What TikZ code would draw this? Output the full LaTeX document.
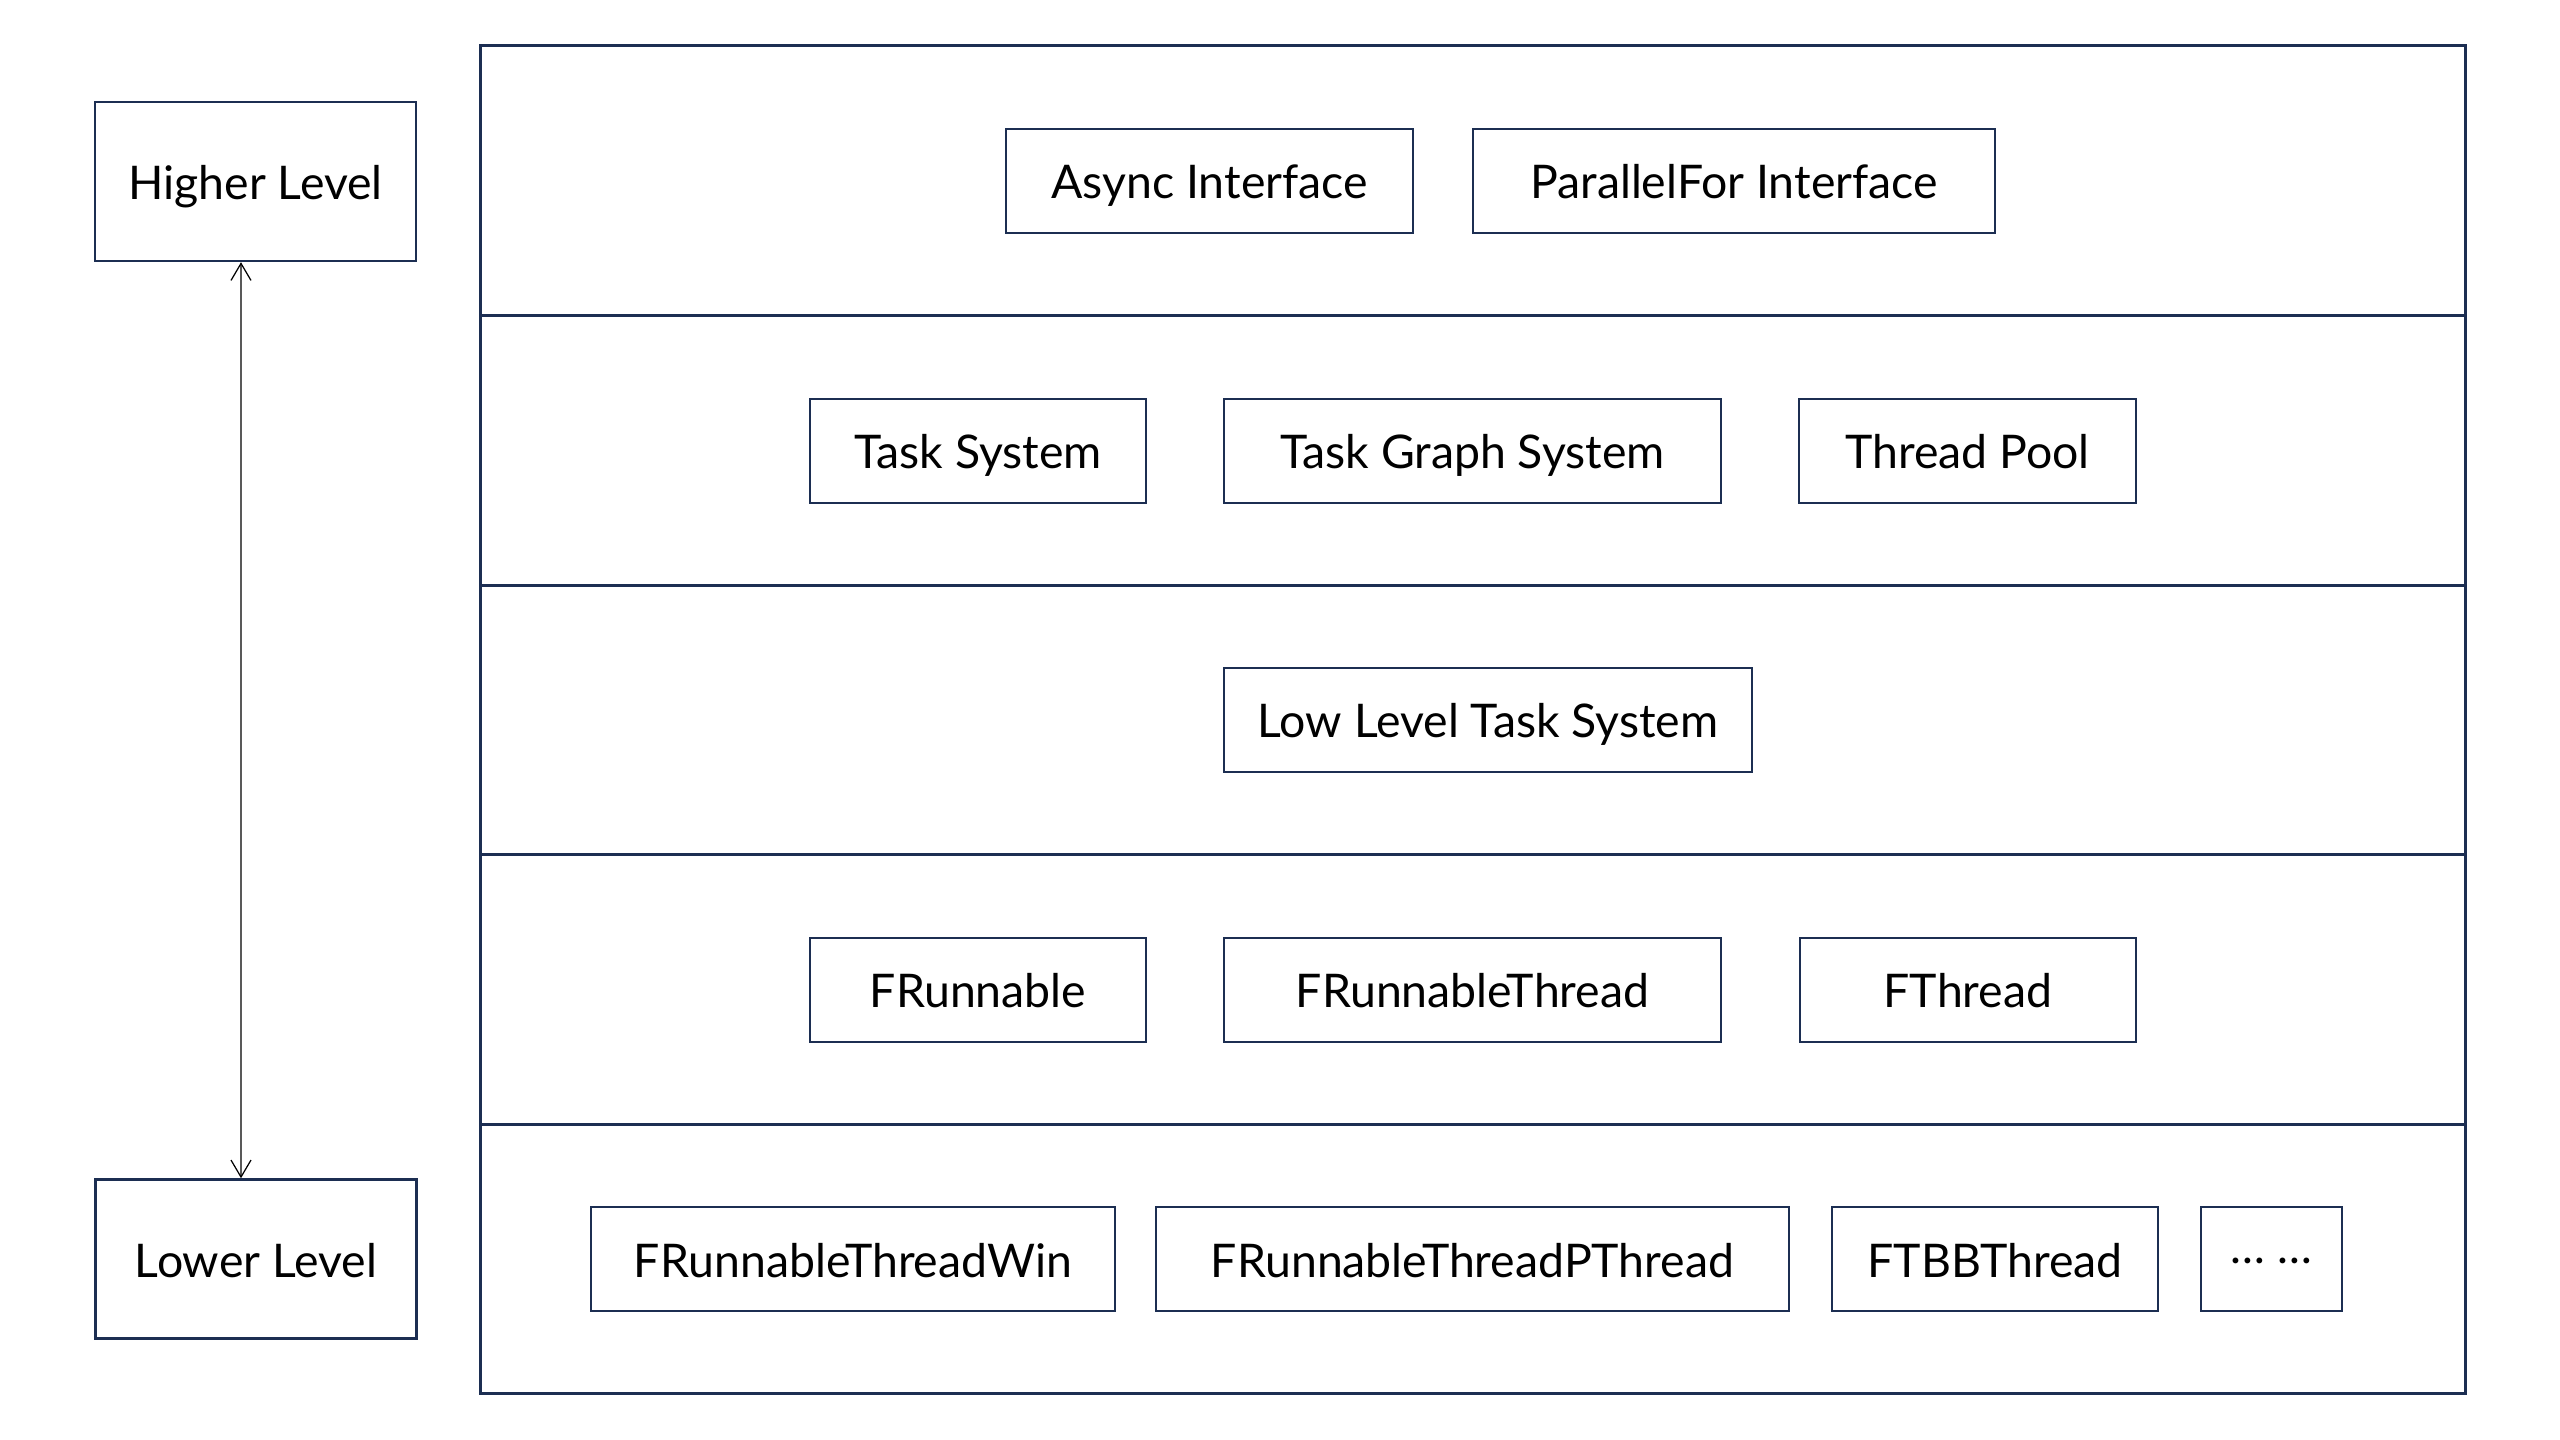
\documentclass[tikz,border=0pt]{standalone}
\usepackage{fontspec}
\setmainfont{Lato}
\usetikzlibrary{arrows.meta}
\definecolor{framecol}{HTML}{1C2E52}
\tikzset{
  unit/.style={draw=framecol, line width=0.7pt, minimum height=10.4mm, inner sep=0pt, text height=4.6mm, text depth=1mm, font=\fontsize{13.2}{16}\selectfont},
  layer/.style={draw=framecol, line width=0.85pt, minimum width=198.5mm, minimum height=26.96mm, inner sep=0pt},
  level/.style={unit, minimum width=32.1mm, minimum height=15.9mm},
}
\begin{document}
\begin{tikzpicture}[x=0.1mm,y=-0.1mm,>={Straight Barb[length=1.7mm,width=2mm]}]
			\useasboundingbox (0,0) rectangle (2560,1440);
			\node[layer] (l1) at (1472.5,180.75) {};
			\node[layer] (l2) at (1472.5,450.3) {};
			\node[layer] (l3) at (1472.5,719.9) {};
			\node[layer] (l4) at (1472.5,989.5) {};
			\node[layer] (l5) at (1472.5,1259) {};
			\node[level] (hi) at (255.5,181.5) {Higher Level};
			\node[level] (lo) at (256,1259) {Lower Level};
			\node[unit, minimum width=40.7mm] (async) at (1209.5,181) {Async Interface};
			\node[unit, minimum width=52.2mm] (pfor) at (1734,181) {ParallelFor Interface};
			\node[unit, minimum width=33.6mm] (task) at (978,451) {Task System};
			\node[unit, minimum width=49.7mm] (graph) at (1472.5,451) {Task Graph System};
			\node[unit, minimum width=33.7mm] (pool) at (1967.5,451) {Thread Pool};
			\node[unit, minimum width=52.8mm] (low) at (1488,720) {Low Level Task System};
			\node[unit, minimum width=33.6mm] (run) at (978,990) {FRunnable};
			\node[unit, minimum width=49.7mm] (runth) at (1472.5,990) {FRunnableThread};
			\node[unit, minimum width=33.6mm] (th) at (1968,990) {FThread};
			\node[unit, minimum width=52.4mm] (win) at (853,1259) {FRunnableThreadWin};
			\node[unit, minimum width=63.3mm] (pth) at (1472.5,1259) {FRunnableThreadPThread};
			\node[unit, minimum width=32.6mm] (tbb) at (1995,1259) {FTBBThread};
			\node[unit, minimum width=14.1mm] (more) at (2271.5,1259) {\raisebox{.3em}{…\ …}};
			\draw[<->, line width=0.35pt] ([xshift=-1.45mm]hi.south) -- ([xshift=-1.5mm]lo.north);
		\end{tikzpicture}
\end{document}
